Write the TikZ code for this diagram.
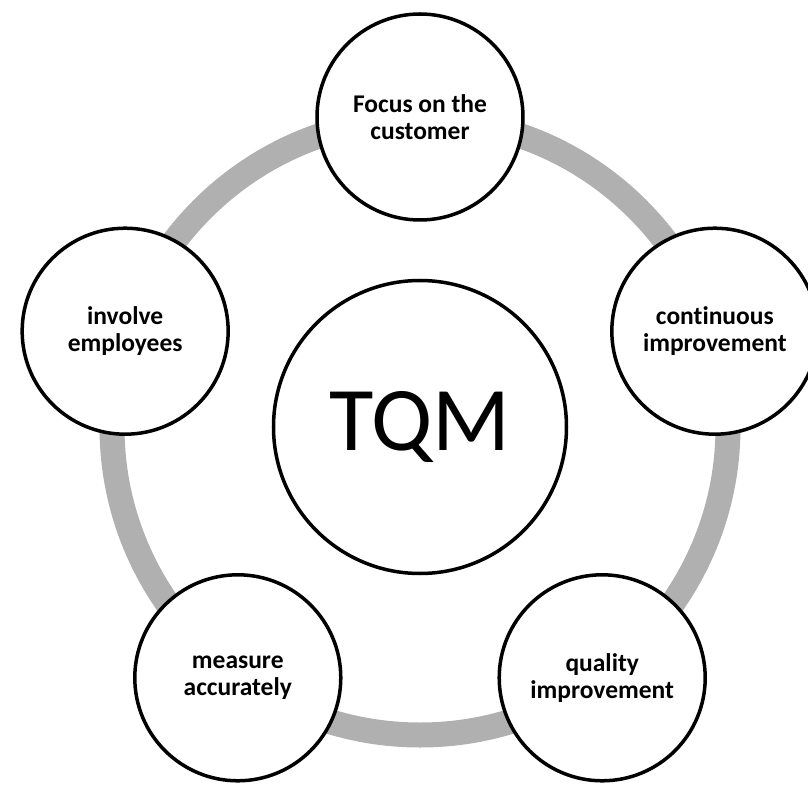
\documentclass[tikz,border=0pt]{standalone}
\usepackage{fontspec}
\setmainfont{Carlito}[Ligatures=NoCommon]
\usepackage{xcolor}
\usepackage{tikz}

\definecolor{ringgray}{RGB}{176,176,176}

\begin{document}
\begin{tikzpicture}[x=1pt, y=1pt,
  main/.style = {draw, circle, line width=3.5pt, fill=white, minimum size=206pt, align=center, font=\bfseries\fontsize{25.5}{27}\selectfont},
  hub/.style = {draw, circle, line width=3.5pt, fill=white, minimum size=293pt, font=\fontsize{91}{92}\selectfont},
  ring/.style = {line width=25pt, draw=ringgray}]
\useasboundingbox (-420,-357) rectangle (388,427);
\coordinate (0) at (0,0);
\draw[ring] (0) circle (308);
\node[hub] (1) at (0) {TQM};
\node[main] (2) at (90:310) {Focus on the\\customer};
\node[main] (3) at (18:310) {continuous\\improvement};
\node[main] (4) at (-54:310) {quality\\improvement};
\node[main] (5) at (234:310) {measure\\accurately};
\node[main] (6) at (162:310) {involve\\employees};
\end{tikzpicture}
\end{document}
